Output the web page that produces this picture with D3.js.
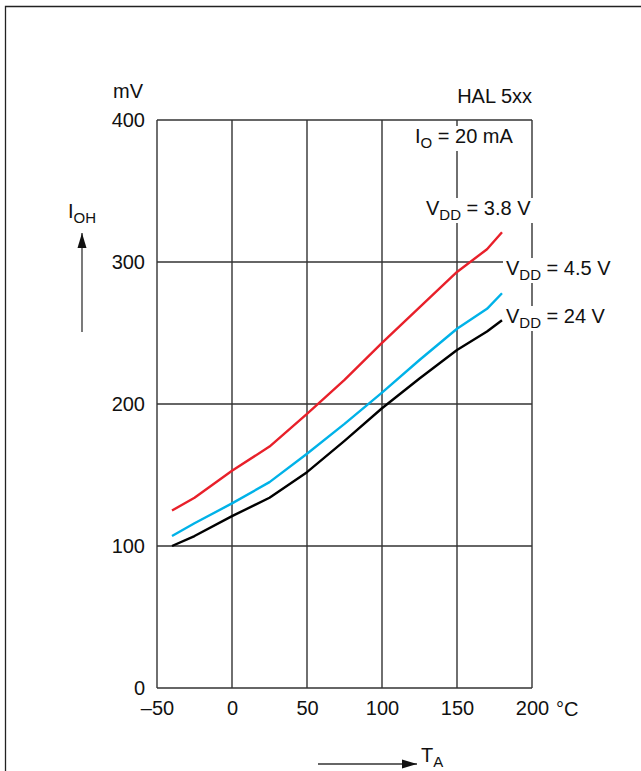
<!DOCTYPE html>
<html lang="en">
<head>
  <meta charset="UTF-8">
  <title>HAL 5xx I_OH vs T_A</title>
  <style>
      body{
          margin:0;
          background:#fff;
      }
      svg text{
          font-family: "Liberation Sans", Arial, sans-serif;
          fill:#111;
      }
      .axis .domain{
          display:none;
      }
      .axis text{
          font-size:20px;
      }
  </style>
</head>
<body>
    <svg width="641" height="771"></svg>
    <script src="https://d3js.org/d3.v7.min.js"></script>
    <script>

        // data (temperature in °C, voltage in mV)
        var temps = [-40, -25, 0, 25, 50, 75, 100, 125, 150, 170, 180];
        var vdd38 = [125, 134, 153, 170, 193, 217, 243, 268, 293, 309, 321];
        var vdd45 = [107, 116, 130, 145, 165, 186, 208, 231, 253, 267, 278];
        var vdd24 = [100, 107, 121, 134, 152, 174, 197, 218, 238, 251, 259];

        var xTicks = [-50, 0, 50, 100, 150, 200];
        var xTickLabels = ["\u201350", "0", "50", "100", "150", "200"];
        var yTicks = [0, 100, 200, 300, 400];
        var yTickLabels = ["0", "100", "200", "300", "400"];

        var series = [
            {name: "3.8 V", values: vdd38, color: "#e8202a"},
            {name: "4.5 V", values: vdd45, color: "#00b2e8"},
            {name: "24 V",  values: vdd24, color: "#000"}
        ];

        var svg = d3.select("svg"),
            margin = {top: 120, left: 157},
            width = 375,
            height = 568;

        // outer frame (only left and top edges are inside the picture)
        svg.append("path")
            .attr("d", "M5.5,775V6.5H645")
            .attr("fill", "none")
            .attr("stroke", "#222")
            .attr("stroke-width", 1.3);

        var x = d3.scaleLinear().domain([-50, 200]).range([margin.left, margin.left + width]);
        var y = d3.scaleLinear().domain([0, 400]).range([margin.top + height, margin.top]);

        // grid
        var grid = svg.append("g").attr("stroke", "#333").attr("stroke-width", 1.4);
        grid.selectAll(".v").data(xTicks).enter().append("line")
            .attr("x1", function(d) { return x(d); })
            .attr("x2", function(d) { return x(d); })
            .attr("y1", y(0)).attr("y2", y(400));
        grid.selectAll(".h").data(yTicks).enter().append("line")
            .attr("y1", function(d) { return y(d); })
            .attr("y2", function(d) { return y(d); })
            .attr("x1", x(-50)).attr("x2", x(200));

        // white boxes behind labels that sit on the grid
        var masks = svg.append("g");

        // axes (labels only)
        svg.append("g")
            .attr("class", "axis")
            .attr("transform", "translate(0," + y(0) + ")")
            .call(d3.axisBottom(x).tickValues(xTicks).tickSize(0).tickPadding(13)
                .tickFormat(function(d, i) { return xTickLabels[i]; }));

        svg.append("g")
            .attr("class", "axis")
            .attr("transform", "translate(" + (x(-50) - 3) + ",0)")
            .call(d3.axisLeft(y).tickValues(yTicks).tickSize(0).tickPadding(9)
                .tickFormat(function(d, i) { return yTickLabels[i]; }))
            .selectAll("text").attr("dy", "0.3em");

        svg.selectAll(".axis line").remove();

        // curves
        var line = d3.line()
            .x(function(d, i) { return x(temps[i]); })
            .y(function(d) { return y(d); });

        svg.append("g").selectAll("path")
            .data(series)
            .enter().append("path")
            .attr("d", function(d) { return line(d.values); })
            .attr("fill", "none")
            .attr("stroke", function(d) { return d.color; })
            .attr("stroke-width", 2.4)
            .attr("stroke-linejoin", "round");

        // texts
        function label(tx, ty, main, sub, rest, masked) {
            var t = svg.append("text")
                .attr("x", tx).attr("y", ty)
                .attr("font-size", 20);
            t.append("tspan").text(main);
            if (sub) {
                t.append("tspan").attr("font-size", 15).attr("dy", 5).text(sub);
                if (rest) t.append("tspan").attr("dy", -5).text(rest);
            }
            if (masked) {
                var b = t.node().getBBox();
                masks.append("rect")
                    .attr("x", b.x - 3).attr("y", b.y + 1)
                    .attr("width", b.width + 6).attr("height", b.height - 1)
                    .attr("fill", "#fff");
            }
            return t;
        }

        label(143, 98, "mV").attr("text-anchor", "end");
        label(532, 103, "HAL 5xx").attr("text-anchor", "end");
        label(556, 716, "\u00b0C");
        label(415, 143, "I", "O", " = 20 mA", true);
        label(426, 215, "V", "DD", " = 3.8 V", true);
        label(506, 275, "V", "DD", " = 4.5 V", true);
        label(506, 323, "V", "DD", " = 24 V", true);
        label(68, 218, "I", "OH", "");
        label(421, 762, "T", "A", "");

        // axis arrows
        svg.append("defs").append("marker")
            .attr("id", "arr")
            .attr("viewBox", "0 0 15 10")
            .attr("refX", 15).attr("refY", 5)
            .attr("markerWidth", 15).attr("markerHeight", 10)
            .attr("markerUnits", "userSpaceOnUse")
            .attr("orient", "auto")
            .append("path").attr("d", "M0,0.5L15,5L0,9.5Z").attr("fill", "#111");

        svg.append("line")
            .attr("x1", 82).attr("x2", 82)
            .attr("y1", 332).attr("y2", 233)
            .attr("stroke", "#333").attr("stroke-width", 1.3)
            .attr("marker-end", "url(#arr)");

        svg.append("line")
            .attr("x1", 318).attr("x2", 417)
            .attr("y1", 764).attr("y2", 764)
            .attr("stroke", "#333").attr("stroke-width", 1.3)
            .attr("marker-end", "url(#arr)");

    </script>
</body>
</html>
